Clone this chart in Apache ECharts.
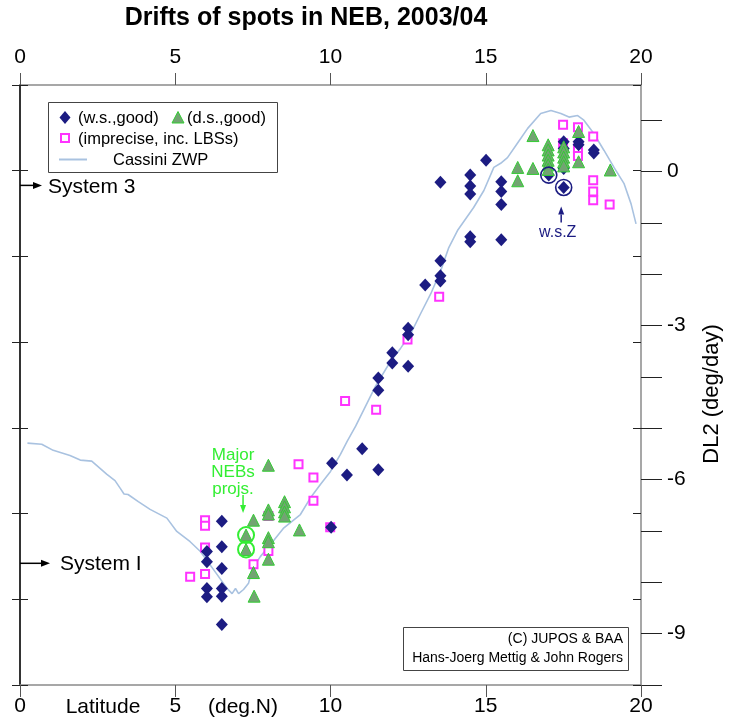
<!DOCTYPE html>
<html><head><meta charset="utf-8">
<script src="https://cdn.jsdelivr.net/npm/echarts@6/dist/echarts.min.js"></script>
<style>html,body{margin:0;padding:0;background:#fff}#c{width:731px;height:728px}</style>
</head><body><div id="c"></div>
<script>
// ---- data ----
const latTicks = [0, 5, 10, 15, 20];
const dl2TickValues = [1, 0, -1, -2, -3, -4, -5, -6, -7, -8, -9, -10];
const dl2LabelValues = [0, -3, -6, -9];

// Cassini zonal wind profile, in DL2 (deg/day) vs latitude
const cassiniZWP = [
  [0.24,-5.29],[0.70,-5.31],[1.07,-5.43],[1.61,-5.53],[1.94,-5.62],[2.31,-5.64],[2.80,-5.90],
  [3.06,-6.02],[3.23,-6.17],[3.35,-6.28],[3.48,-6.29],[3.81,-6.43],[4.19,-6.58],[4.73,-6.75],
  [5.05,-7.01],[5.48,-7.21],[5.81,-7.40],[6.35,-7.85],[6.67,-8.12],[6.83,-8.22],[6.94,-8.12],
  [7.04,-8.22],[7.20,-8.14],[7.36,-8.02],[7.47,-7.75],[7.74,-7.50],[8.06,-7.27],[8.48,-6.95],
  [9.03,-6.68],[9.35,-6.36],[9.68,-6.09],[10.0,-5.84],[10.32,-5.51],[10.54,-5.25],[10.81,-4.96],
  [11.13,-4.57],[11.45,-4.18],[11.94,-3.69],[12.26,-3.44],[12.58,-3.16],[12.90,-2.77],[13.23,-2.38],
  [13.55,-1.93],[13.81,-1.48],[14.09,-1.15],[14.61,-0.70],[14.94,-0.37],[15.26,0.08],[15.48,0.16],
  [15.70,0.27],[16.02,0.55],[16.35,0.84],[16.77,1.13],[17.10,1.19],[17.42,1.13],[17.68,1.06],
  [17.96,1.09],[18.16,1.00],[18.48,0.74],[18.81,0.41],[19.13,0.08],[19.45,-0.23],[19.68,-0.63],[19.84,-1.02]
];

// w.s., good
const wsGood = [
  [6.02,-7.40],[6.02,-7.60],[6.02,-8.12],[6.02,-8.28],
  [6.50,-6.81],[6.50,-7.31],[6.50,-7.73],[6.50,-8.12],[6.50,-8.27],[6.50,-8.82],
  [10.05,-5.68],[10.53,-5.91],[10.02,-6.93],[11.02,-5.40],[11.54,-5.81],
  [11.54,-4.02],[11.54,-4.26],[11.99,-3.53],[11.99,-3.73],[12.50,-3.05],[12.50,-3.18],[12.50,-3.79],
  [13.05,-2.21],[13.54,-1.74],[13.54,-2.03],[13.54,-2.13],[13.54,-0.21],
  [14.50,-0.07],[14.50,-0.28],[14.50,-0.44],[14.50,-1.27],[14.50,-1.37],[15.01,0.22],
  [15.50,-0.20],[15.50,-0.39],[15.50,-0.64],[15.50,-1.33],
  [17.03,-0.07],[17.51,-0.31],[17.51,0.58],[17.51,0.45],[17.51,0.06],
  [17.99,0.58],[17.99,0.52],[18.48,0.42],[18.48,0.36]
];

// d.s., good
const dsGood = [
  [16.52,0.70],[16.03,0.08],[16.03,-0.18],[16.52,0.06],
  [17.01,0.52],[17.01,0.42],[17.01,0.32],[17.01,0.22],[17.01,0.13],[17.01,0.04],
  [17.51,0.48],[17.51,0.38],[17.51,0.28],[17.51,0.19],[17.51,0.11],
  [17.99,0.78],[17.99,0.19],[19.01,0.03],
  [8.00,-5.72],[8.52,-6.43],[8.52,-6.53],[8.52,-6.63],[8.52,-6.71],[8.00,-6.59],[8.00,-6.67],
  [7.52,-6.79],[7.28,-7.08],[7.28,-7.36],[8.00,-7.13],[8.00,-7.21],[8.00,-7.55],[7.52,-7.81],
  [9.00,-6.98],[7.54,-8.27]
];

// imprecise, inc. LBSs
const imprecise = [
  [17.49,0.91],[17.97,0.86],[18.46,0.68],[17.97,0.45],[17.97,0.30],[17.49,0.55],
  [18.46,-0.17],[18.46,-0.39],[18.46,-0.56],[18.99,-0.64],
  [13.50,-2.44],[12.48,-3.27],[10.47,-4.47],[11.47,-4.64],
  [8.97,-5.70],[9.45,-5.96],[9.45,-6.41],[8.00,-6.71],[9.99,-6.93],
  [5.96,-6.79],[5.96,-6.90],[5.96,-7.32],[8.00,-7.39],[7.52,-7.65],[5.96,-7.84],[5.48,-7.89]
];

const circledWs = [[17.03,-0.07],[17.51,-0.31]];
const circledNEBs = [[7.28,-7.08],[7.28,-7.36]];
const systemIII = -0.27;   // DL2 of System III
const systemI = -7.63;     // DL2 of System I

// ---- chart ----
const FONT = 'Liberation Sans';
const NAVY = '#1c1c82';
const GREEN = '#33ee33';
const TRI_FILL = '#72a472';
const chart = echarts.init(document.getElementById('c'), null, {renderer: 'canvas'});

const xCommon = (pos, margin) => ({
  type: 'value', min: latTicks[0], max: latTicks[latTicks.length - 1], interval: 5, position: pos,
  axisLine: {onZero: false, lineStyle: {color: '#8a8a8a', width: 1.5}},
  axisTick: {length: 12, lineStyle: {color: '#555', width: 1}},
  axisLabel: {margin: margin, fontSize: 21, color: '#000', fontFamily: FONT},
  splitLine: {show: false}
});
const leftScale = (pos, inside, showLine, color) => ({
  type: 'value', min: 0, max: 7, interval: 1, position: pos,
  axisLine: {show: showLine, onZero: false, lineStyle: {color: color, width: 1.6}},
  axisTick: {show: true, inside: inside, length: 8, lineStyle: {color: '#222', width: 1}},
  axisLabel: {show: false}, splitLine: {show: false}
});

chart.setOption({
  animation: false,
  textStyle: {fontFamily: FONT},
  grid: {left: 20, right: 90, top: 85, bottom: 43, containLabel: false},
  xAxis: [xCommon('bottom', 11), xCommon('top', 17)],
  yAxis: [
    leftScale('left', false, true, '#000'),
    leftScale('left', true, false, '#000'),
    {
      type: 'value', min: -10, max: 1.685, position: 'right',
      axisLine: {show: true, onZero: false, lineStyle: {color: '#8a8a8a', width: 1.5}},
      axisTick: {show: true, length: 21, customValues: dl2TickValues, lineStyle: {color: '#222', width: 1}},
      axisLabel: {customValues: dl2LabelValues, margin: 26, fontSize: 21, color: '#000', fontFamily: FONT},
      splitLine: {show: false}
    },
    leftScale('right', true, false, '#8a8a8a')
  ],
  series: [
    {name: 'Cassini ZWP', type: 'line', xAxisIndex: 0, yAxisIndex: 2, data: cassiniZWP,
     showSymbol: false, lineStyle: {color: '#a9c2e0', width: 1.6}, z: 1, silent: true},
    {name: '(imprecise, inc. LBSs)', type: 'scatter', xAxisIndex: 0, yAxisIndex: 2, data: imprecise,
     symbol: 'rect', symbolSize: 8, itemStyle: {color: '#fff', borderColor: '#ff33ff', borderWidth: 2, opacity: 1}, z: 2},
    {name: '(w.s.,good)', type: 'scatter', xAxisIndex: 0, yAxisIndex: 2, data: wsGood,
     symbol: 'diamond', symbolSize: [12, 13], itemStyle: {color: NAVY, opacity: 1}, z: 3},
    {name: '(d.s.,good)', type: 'scatter', xAxisIndex: 0, yAxisIndex: 2, data: dsGood,
     symbol: 'triangle', symbolSize: 12, itemStyle: {color: TRI_FILL, borderColor: '#33cc33', borderWidth: 1, opacity: 1}, z: 4}
  ]
});

function px(p) { return chart.convertToPixel({xAxisIndex: 0, yAxisIndex: 2}, p); }
function arrow(x1, y1, x2, y2, color, head, w) {
  const dx = x2 - x1, dy = y2 - y1, L = Math.hypot(dx, dy), ux = dx / L, uy = dy / L;
  const bx = x2 - ux * head, by = y2 - uy * head;
  return [
    {type: 'line', shape: {x1: x1, y1: y1, x2: bx, y2: by}, style: {stroke: color, lineWidth: 1.5}, z: 20},
    {type: 'polygon', shape: {points: [[x2, y2], [bx - uy * w, by + ux * w], [bx + uy * w, by - ux * w]]},
     style: {fill: color}, z: 20}
  ];
}
const T = (x, y, text, o) => Object.assign({type: 'text', x: x, y: y, z: 30,
  style: Object.assign({text: text, fontFamily: FONT, fill: '#000', verticalAlign: 'middle'}, o)});

const g = [];
// title
g.push(T(306, 18, 'Drifts of spots in NEB, 2003/04', {fontSize: 25, fontWeight: 'bold', align: 'center'}));
// legend box
g.push({type: 'rect', shape: {x: 48.5, y: 102.5, width: 229, height: 70}, style: {fill: '#fff', stroke: '#444', lineWidth: 1}, z: 25});
g.push({type: 'polygon', shape: {points: [[65, 111], [70.5, 117.5], [65, 124], [59.5, 117.5]]}, style: {fill: NAVY}, z: 30});
g.push(T(78, 118, '(w.s.,good)', {fontSize: 16.5}));
g.push({type: 'polygon', shape: {points: [[178, 111.5], [184, 123], [172, 123]]}, style: {fill: TRI_FILL, stroke: '#33cc33', lineWidth: 1}, z: 30});
g.push(T(187, 118, '(d.s.,good)', {fontSize: 16.5}));
g.push({type: 'rect', shape: {x: 61, y: 134, width: 8, height: 8}, style: {fill: '#fff', stroke: '#ff33ff', lineWidth: 2}, z: 30});
g.push(T(78, 139, '(imprecise, inc. LBSs)', {fontSize: 16.5}));
g.push({type: 'line', shape: {x1: 59, y1: 159.5, x2: 87, y2: 159.5}, style: {stroke: '#a9c2e0', lineWidth: 2}, z: 30});
g.push(T(113, 160, 'Cassini ZWP', {fontSize: 16.5}));
// copyright box
g.push({type: 'rect', shape: {x: 403.5, y: 627.5, width: 225, height: 43}, style: {fill: '#fff', stroke: '#444', lineWidth: 1}, z: 25});
g.push(T(623, 639, '(C) JUPOS & BAA', {fontSize: 14, align: 'right'}));
g.push(T(623, 658, 'Hans-Joerg Mettig & John Rogers', {fontSize: 14, align: 'right'}));
// axis names
g.push(T(103, 707, 'Latitude', {fontSize: 21, align: 'center'}));
g.push(T(243, 707, '(deg.N)', {fontSize: 21, align: 'center'}));
g.push({type: 'text', x: 712, y: 394, rotation: Math.PI / 2, z: 30,
  style: {text: 'DL2 (deg/day)', fontFamily: FONT, fontSize: 22, fill: '#000', align: 'center', verticalAlign: 'middle'}});
// system markers
const y3 = px([0, systemIII])[1], y1 = px([0, systemI])[1], x0 = px([0, 0])[0];
g.push(...arrow(x0, y3, x0 + 22, y3, '#000', 9, 3.5));
g.push(T(x0 + 28, y3 + 2, 'System 3', {fontSize: 21}));
g.push(...arrow(x0, y1, x0 + 30, y1, '#000', 9, 3.5));
g.push(T(x0 + 40, y1 + 1, 'System I', {fontSize: 21}));
// circled points
circledWs.forEach(p => { const c = px(p); g.push({type: 'circle', shape: {cx: c[0], cy: c[1], r: 8}, style: {fill: 'none', stroke: NAVY, lineWidth: 1.6}, z: 15}); });
circledNEBs.forEach(p => { const c = px(p); g.push({type: 'circle', shape: {cx: c[0], cy: c[1], r: 8}, style: {fill: 'none', stroke: GREEN, lineWidth: 2}, z: 15}); });
// w.s.Z annotation
const cz = px(circledWs[1]);
g.push(...arrow(cz[0] - 2.5, cz[1] + 35, cz[0] - 2.5, cz[1] + 19, NAVY, 8, 3));
g.push(T(cz[0] - 6, cz[1] + 45, 'w.s.Z', {fontSize: 16, align: 'center', fill: NAVY}));
// Major NEBs projs. annotation
const cn = px(circledNEBs[0]);
g.push(...arrow(cn[0] - 3, cn[1] - 40, cn[0] - 3, cn[1] - 22, GREEN, 8, 3));
g.push(T(cn[0] - 13, cn[1] - 80, 'Major', {fontSize: 17, align: 'center', fill: GREEN}));
g.push(T(cn[0] - 13, cn[1] - 63, 'NEBs', {fontSize: 17, align: 'center', fill: GREEN}));
g.push(T(cn[0] - 13, cn[1] - 46, 'projs.', {fontSize: 17, align: 'center', fill: GREEN}));

chart.setOption({graphic: g});
</script></body></html>
